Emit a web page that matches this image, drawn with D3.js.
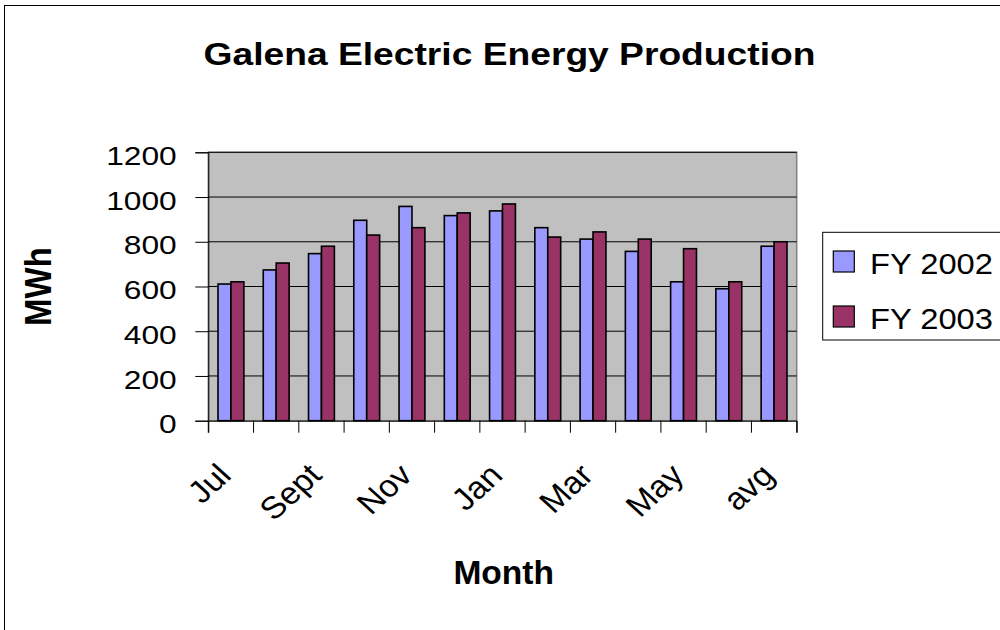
<!DOCTYPE html>
<html>
<head>
<meta charset="utf-8">
<script src="https://cdn.jsdelivr.net/npm/d3@7"></script>
<style>
  body { margin: 0; background: #fff; }
  text { font-family: "Liberation Sans", Arial, sans-serif; fill: #000; }
</style>
</head>
<body>
<div id="chart"></div>
<script>
// data
var months = ["Jul", "Aug", "Sept", "Oct", "Nov", "Dec", "Jan", "Feb", "Mar", "Apr", "May", "Jun", "avg"];
var seriesNames = ["FY 2002", "FY 2003"];
var fy2002 = [611, 674, 747, 896, 958, 917, 938, 863, 812, 757, 621, 590, 780];
var fy2003 = [621, 705, 780, 830, 863, 929, 969, 821, 844, 812, 769, 621, 800];
var yTicks = [0, 200, 400, 600, 800, 1000, 1200];
var colors = ["#9999FF", "#993366"];

function drawChart(){
	var svgWidth = 1000;
	var svgHeight = 630;
	var plot = {left: 208.3, right: 796.7, top: 152.3, bottom: 420.7};

	var svg = d3.select("#chart")
		.append("svg")
		.attr("width", svgWidth)
		.attr("height", svgHeight);

	//outer chart border (runs off the right and bottom edge)
	svg.append("rect")
		.attr("x", 4.5).attr("y", 5.5)
		.attr("width", 1100).attr("height", 700)
		.attr("fill", "#fff")
		.attr("stroke", "#000")
		.attr("stroke-width", 1);

	var xScale = d3.scaleBand()
		.domain(months)
		.range([plot.left, plot.right]);

	var xSub = d3.scaleBand()
		.domain(seriesNames)
		.range([0, xScale.bandwidth()])
		.paddingOuter(0.75);

	var yScale = d3.scaleLinear()
		.domain([0, 1200])
		.range([plot.bottom, plot.top]);

	//plot area
	svg.append("rect")
		.attr("x", plot.left).attr("y", plot.top)
		.attr("width", plot.right - plot.left)
		.attr("height", plot.bottom - plot.top)
		.attr("fill", "#C0C0C0")
		.attr("stroke", "#808080")
		.attr("stroke-width", 1.5);

	//gridlines
	svg.append("g")
		.selectAll("line")
		.data(yTicks.slice(1))
		.enter()
		.append("line")
		.attr("x1", plot.left).attr("x2", plot.right)
		.attr("y1", function(d){ return yScale(d); })
		.attr("y2", function(d){ return yScale(d); })
		.attr("stroke", "#000")
		.attr("stroke-width", 1);

	//y axis
	var yAxis = d3.axisLeft(yScale)
		.tickValues(yTicks)
		.tickSize(13)
		.tickFormat("");
	svg.append("g")
		.attr("transform", "translate(" + plot.left + ",0)")
		.call(yAxis)
		.call(function(g){ g.selectAll("line, path").attr("stroke", "#000"); });

	svg.append("g")
		.selectAll("text")
		.data(yTicks)
		.enter()
		.append("text")
		.attr("transform", function(d){ return "translate(176.7," + (yScale(d) + 12.6) + ") scale(1.22,1)"; })
		.attr("text-anchor", "end")
		.style("font-size", "26px")
		.text(function(d){ return d; });

	//x axis, ticks on category boundaries
	var xAxis = d3.axisBottom(xScale)
		.tickSize(12)
		.tickFormat("");
	var xg = svg.append("g")
		.attr("transform", "translate(0," + plot.bottom + ")")
		.call(xAxis);
	xg.selectAll(".tick").remove();
	xg.select("path").attr("stroke", "#000");
	var bounds = months.map(function(m){ return xScale(m); }).concat([plot.right]);
	xg.selectAll("line.bound")
		.data(bounds)
		.enter()
		.append("line")
		.attr("class", "bound")
		.attr("x1", function(d){ return d; }).attr("x2", function(d){ return d; })
		.attr("y1", 0).attr("y2", 12)
		.attr("stroke", "#000");

	//bars
	var seriesData = [fy2002, fy2003];
	seriesNames.forEach(function(name, s){
		svg.append("g")
			.selectAll("rect")
			.data(seriesData[s])
			.enter()
			.append("rect")
			.attr("x", function(d, i){ return xScale(months[i]) + xSub(name); })
			.attr("y", function(d){ return yScale(d); })
			.attr("width", xSub.bandwidth())
			.attr("height", function(d){ return plot.bottom - yScale(d); })
			.attr("fill", colors[s])
			.attr("stroke", "#000")
			.attr("stroke-width", 1.6);
	});

	//month labels, every other category
	svg.append("g")
		.selectAll("text")
		.data(months.filter(function(d, i){ return i % 2 === 0; }))
		.enter()
		.append("text")
		.attr("transform", function(d){
			return "translate(" + (xScale(d) + xScale.bandwidth() / 2 + 2) + ",477) scale(1.1,1) rotate(-45)";
		})
		.attr("text-anchor", "end")
		.style("font-size", "31px")
		.text(function(d){ return d; });

	//title
	svg.append("text")
		.attr("transform", "translate(509.5,65) scale(1.2,1)")
		.attr("text-anchor", "middle")
		.style("font-size", "31px")
		.style("font-weight", "bold")
		.text("Galena Electric Energy Production");

	//axis titles
	svg.append("text")
		.attr("transform", "translate(51,286.5) scale(1.13,1) rotate(-90)")
		.attr("text-anchor", "middle")
		.style("font-size", "33px")
		.style("font-weight", "bold")
		.text("MWh");

	svg.append("text")
		.attr("transform", "translate(503.7,584) scale(1.03,1)")
		.attr("text-anchor", "middle")
		.style("font-size", "32.6px")
		.style("font-weight", "bold")
		.text("Month");

	//legend
	var legend = svg.append("g");
	legend.append("rect")
		.attr("x", 822.7).attr("y", 232.3)
		.attr("width", 300).attr("height", 107.7)
		.attr("fill", "#fff")
		.attr("stroke", "#000")
		.attr("stroke-width", 1);

	var items = legend.selectAll("g.item")
		.data(seriesNames)
		.enter()
		.append("g")
		.attr("class", "item")
		.attr("transform", function(d, i){ return "translate(0," + (i * 55) + ")"; });

	items.append("rect")
		.attr("x", 833.3).attr("y", 251)
		.attr("width", 21).attr("height", 21)
		.attr("fill", function(d, i){ return colors[i]; })
		.attr("stroke", "#000")
		.attr("stroke-width", 1.2);

	items.append("text")
		.attr("transform", "translate(870,273.5) scale(1.09,1)")
		.style("font-size", "30px")
		.text(function(d){ return d; });
}

drawChart();
</script>
</body>
</html>
